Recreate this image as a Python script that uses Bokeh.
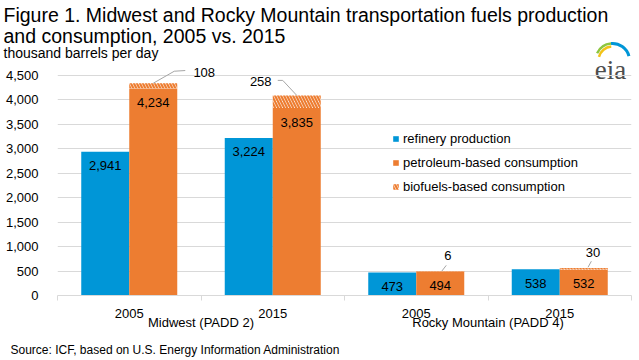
from bokeh.plotting import figure
from bokeh.models import (Range1d, LinearAxis, FixedTicker, NumeralTickFormatter, ColumnDataSource,
                          LabelSet, Legend, LegendItem, GridBox)
from bokeh.transform import dodge
from bokeh.core.properties import value
from bokeh.embed import file_html
from bokeh.resources import INLINE

# ---------------- data ----------------
region_names = ["Midwest (PADD 2)", "Rocky Mountain (PADD 4)"]
years = ["2005", "2015", "2005", "2015"]
refinery = [2941, 3224, 473, 538]
petroleum = [4234, 3835, 494, 532]
biofuels = [108, 258, 6, 30]
y_ticks = [0, 500, 1000, 1500, 2000, 2500, 3000, 3500, 4000, 4500]

title_lines = ["Figure 1. Midwest and Rocky Mountain transportation fuels production",
               "and consumption, 2005 vs. 2015"]
unit_label = "thousand barrels per day"
source_note = "Source: ICF, based on U.S. Energy Information Administration"
legend_labels = ["refinery production", "petroleum-based consumption", "biofuels-based consumption"]

# ---------------- style / layout ----------------
BLUE = "#0096D7"
ORANGE = "#ED7D31"
GRID = "#D9D9D9"
LEADER = "#A6A6A6"
FONT = "Liberation Sans"
W, H = 639, 360
# frame in pixel coordinates
FL, FR, FT, FB = 57, 631, 38, 295
PX_PER_UNIT = (295 - 75) / 4500.0
CAT_W = (FR - FL) / 4.0
BAR_W = 48 / CAT_W
Y_END = (FB - FT) / PX_PER_UNIT

n = len(years)
centres = [i + 0.5 for i in range(n)]
boundaries = [float(i) for i in range(n + 1)]
group_centres = [1.0, 3.0]
totals = [a + b for a, b in zip(petroleum, biofuels)]

# ---------- background figure: titles, notes, logo (pixel coordinates) ----------
bg = figure(width=W, height=H, output_backend="svg", toolbar_location=None,
            x_range=Range1d(0, W), y_range=Range1d(0, H),
            x_axis_location=None, y_axis_location=None, min_border=0, frame_align=False)
bg.outline_line_color = None
bg.grid.visible = False


def txt(x, y, s, size, align="left", font=FONT, color="#000000", baseline="middle"):
    bg.text(x=[x], y=[H - y], text=[s], text_align=align, text_baseline=baseline,
            text_font=value(font), text_font_size=size, text_color=color)


txt(3, 14, title_lines[0], "19.5px")
txt(3, 35, title_lines[1], "19.5px")
txt(3, 52, unit_label, "14px")
txt(10, 349, source_note, "12px")

# eia logo
bg.arc(x=612, y=H - 60, radius=14, radius_units="screen", start_angle=1.66, end_angle=2.88,
       line_color="#F2C318", line_width=2.5)
bg.arc(x=612, y=H - 60, radius=17, radius_units="screen", start_angle=0.26, end_angle=1.66,
       line_color=BLUE, line_width=3)
bg.arc(x=612, y=H - 60, radius=17, radius_units="screen", start_angle=1.66, end_angle=2.7,
       line_color="#8DC63F", line_width=2.5)
txt(610, 69.5, "eia", "27px", align="center", font="Liberation Serif", color="#4D4D4D",
    baseline="alphabetic")

# ---------------- main chart ----------------
p = figure(width=W, height=H, output_backend="svg", toolbar_location=None,
           x_range=Range1d(0, n), y_range=Range1d(0, Y_END), x_axis_location=None,
           min_border_left=FL, min_border_right=W - FR,
           min_border_top=FT, min_border_bottom=H - FB, frame_align=False)
p.outline_line_color = None
p.background_fill_alpha = 0
p.border_fill_alpha = 0

yax = p.yaxis[0]
yax.ticker = FixedTicker(ticks=y_ticks)
yax.formatter = NumeralTickFormatter(format="0,0")
yax.axis_line_color = None
yax.major_tick_line_color = None
yax.minor_tick_line_color = None
yax.major_label_standoff = 13
yax.major_label_text_font = FONT
yax.major_label_text_font_size = "13px"
yax.major_label_text_color = "#000000"
p.ygrid.ticker = FixedTicker(ticks=y_ticks)
p.ygrid.grid_line_color = GRID
p.xgrid.grid_line_color = None

year_axis = LinearAxis(ticker=FixedTicker(ticks=centres, minor_ticks=boundaries),
                       major_label_overrides={c: y for c, y in zip(centres, years)},
                       axis_line_color=GRID, major_tick_line_color=None,
                       minor_tick_line_color=GRID, minor_tick_in=0, minor_tick_out=5,
                       major_tick_in=0, major_tick_out=0, major_label_standoff=8,
                       major_label_text_font=FONT, major_label_text_font_size="13px",
                       major_label_text_color="#000000")
p.add_layout(year_axis, "below")
group_axis = LinearAxis(ticker=FixedTicker(ticks=group_centres, minor_ticks=[]),
                        major_label_overrides={c: g for c, g in zip(group_centres, region_names)},
                        axis_line_color=None, major_tick_line_color=None,
                        minor_tick_line_color=None, major_tick_in=0, major_tick_out=0,
                        major_label_standoff=-6,
                        major_label_text_font=FONT, major_label_text_font_size="13px",
                        major_label_text_color="#000000")
p.add_layout(group_axis, "below")

src = ColumnDataSource(dict(x=centres, refinery=refinery, petroleum=petroleum,
                            biofuels=biofuels, total=totals,
                            ref_txt=[f"{v:,}" for v in refinery],
                            pet_txt=[f"{v:,}" for v in petroleum]))

r_ref = p.vbar(x=dodge("x", -BAR_W / 2), top="refinery", width=BAR_W,
               source=src, fill_color=BLUE, line_color=None)
r_pet = p.vbar(x=dodge("x", BAR_W / 2), top="petroleum", width=BAR_W,
               source=src, fill_color=ORANGE, line_color=None)
r_bio = p.vbar(x=dodge("x", BAR_W / 2), bottom="petroleum", top="total",
               width=BAR_W, source=src, fill_color="white", line_color=None,
               hatch_pattern="left_diagonal_line", hatch_color=ORANGE,
               hatch_weight=2.2, hatch_scale=6)

for col, t, off in [("refinery", "ref_txt", -BAR_W / 2), ("petroleum", "pet_txt", BAR_W / 2)]:
    p.add_layout(LabelSet(x=dodge("x", off), y=col, text=t, source=src,
                          y_offset=-14, text_align="center", text_baseline="middle",
                          text_font=value(FONT), text_font_size="13px", text_color="#000000"))

# biofuel labels with leader lines (offsets in px from bar top centre, y down)
label_off = [(51, -11), (-36, -14), (7.6, -15.6), (9.3, -15.8)]
leader_pts = [[(0, 0), (21, -12), (32, -12.7)],
              [(0, 0), (-14, -15), (-19, -15)],
              [(1.6, 0), (6, -5.7)],
              [(4.3, -0.8), (7.6, -6.8)]]
xs, ys = [], []
for c, t, pts in zip(centres, totals, leader_pts):
    xs.append([c + BAR_W / 2 + dx / CAT_W for dx, dy in pts])
    ys.append([t - dy / PX_PER_UNIT for dx, dy in pts])
p.multi_line(xs=xs, ys=ys, line_color=LEADER, line_width=1)

src_bio = ColumnDataSource(dict(x=centres, total=totals, txt=[f"{v:,}" for v in biofuels],
                                xo=[o[0] for o in label_off], yo=[-o[1] for o in label_off]))
p.add_layout(LabelSet(x=dodge("x", BAR_W / 2), y="total", text="txt",
                      source=src_bio, x_offset="xo", y_offset="yo",
                      text_align="center", text_baseline="middle",
                      text_font=value(FONT), text_font_size="13px", text_color="#000000"))

legend = Legend(items=[LegendItem(label=legend_labels[0], renderers=[r_ref]),
                       LegendItem(label=legend_labels[1], renderers=[r_pet]),
                       LegendItem(label=legend_labels[2], renderers=[r_bio])],
                location=(392 - FL, FB - 196), orientation="vertical",
                glyph_width=7, glyph_height=7, label_standoff=4, spacing=4,
                label_height=20, padding=0, margin=0,
                border_line_color=None, background_fill_alpha=0,
                label_text_font=FONT, label_text_font_size="13px", label_text_color="#000000")
p.add_layout(legend)

layout = GridBox(children=[(bg, 0, 0), (p, 0, 0)])
open("out.html", "w").write(file_html(layout, INLINE))
